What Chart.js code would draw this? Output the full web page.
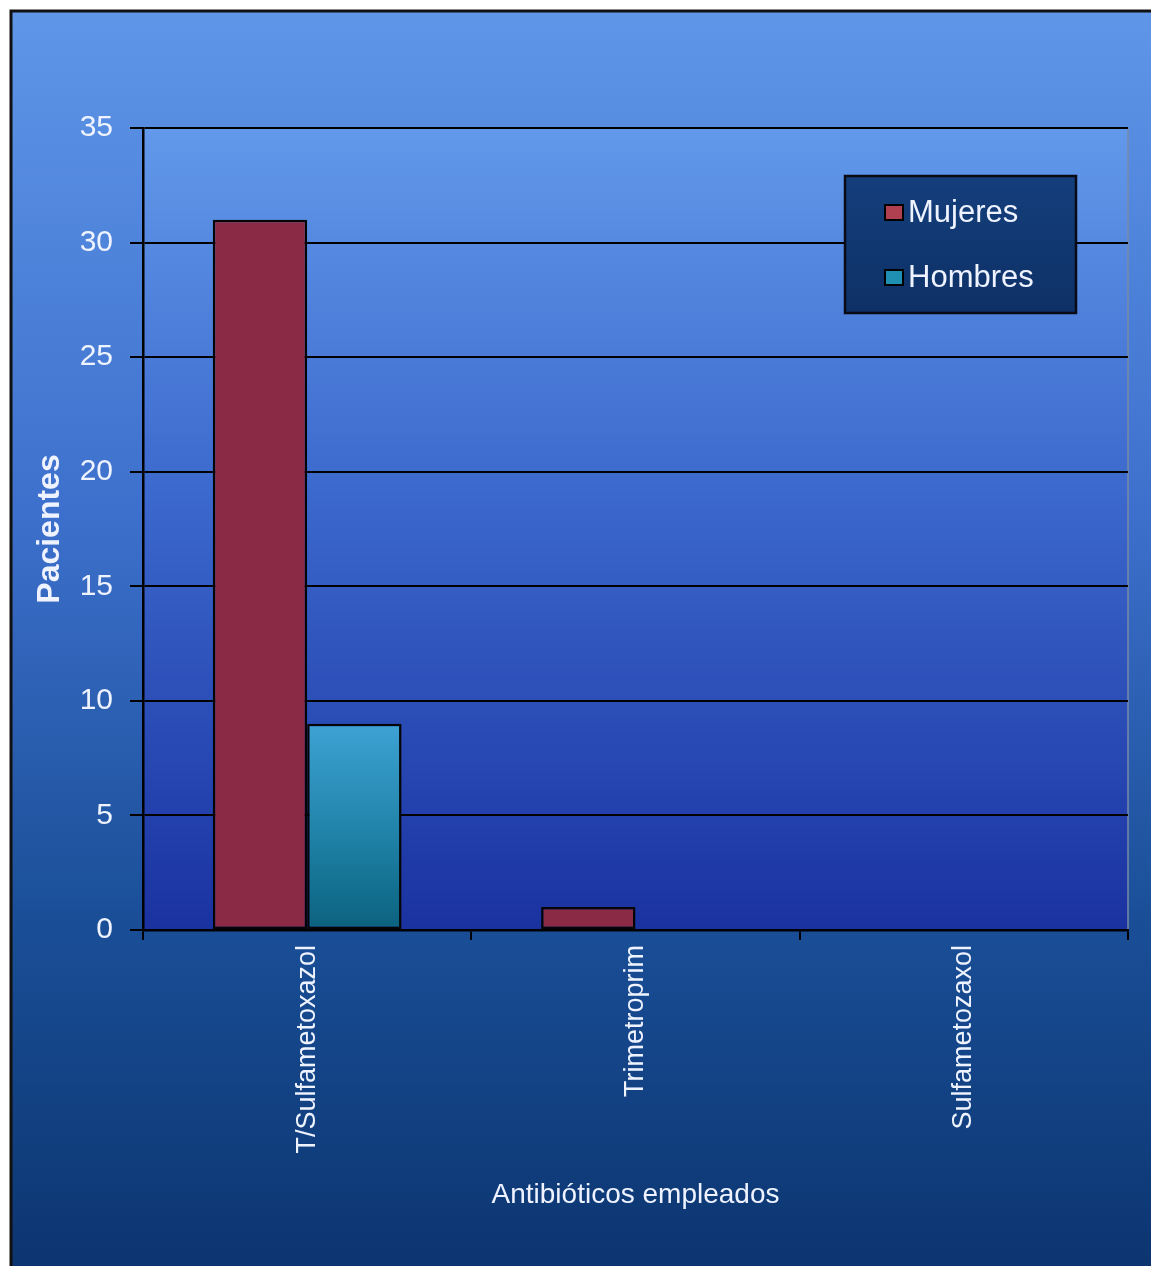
<!DOCTYPE html>
<html lang="es">
<head>
<meta charset="utf-8">
<title>Antibióticos empleados</title>
<script src="https://cdn.jsdelivr.net/npm/chart.js@4/dist/chart.umd.min.js"></script>
<style>
  html, body { margin: 0; padding: 0; background: #ffffff; }
  #wrap { width: 1151px; height: 1266px; position: relative; }
</style>
</head>
<body>
<div id="wrap"><canvas id="antibioticos-chart"></canvas></div>
<script>
// Antibiotics used, by sex
const categorias = ['T/Sulfametoxazol', 'Trimetroprim', 'Sulfametozaxol'];
const mujeres = [31, 1, 0];
const hombres = [9, 0, 0];
const etiquetasSeries = ['Mujeres', 'Hombres'];
const ejeY = { min: 0, max: 35, paso: 5 };

const FONT = "'Liberation Sans', Arial, sans-serif";
const TEXT = '#eef3ff';

// Framed gradient backdrop plus the plot-area gradient
const fondo = {
  id: 'fondo',
  beforeDraw(chart) {
    const { ctx, width, height, chartArea: a } = chart;
    ctx.save();
    ctx.fillStyle = '#ffffff';
    ctx.fillRect(0, 0, width, height);

    const g = ctx.createLinearGradient(0, 10, 0, height);
    g.addColorStop(0, '#5f96e8');
    g.addColorStop(0.4, '#3d70cc');
    g.addColorStop(0.72, '#1a4f98');
    g.addColorStop(1, '#0c3570');
    ctx.fillStyle = g;
    ctx.fillRect(10, 10, width - 10, height - 10);

    ctx.strokeStyle = '#111111';
    ctx.lineWidth = 3;
    ctx.beginPath();
    ctx.moveTo(11, height);
    ctx.lineTo(11, 11);
    ctx.lineTo(width, 11);
    ctx.stroke();

    const p = ctx.createLinearGradient(0, a.top, 0, a.bottom);
    p.addColorStop(0, '#6299ea');
    p.addColorStop(0.45, '#3c69cd');
    p.addColorStop(1, '#1a32a0');
    ctx.fillStyle = p;
    ctx.fillRect(a.left, a.top, a.right - a.left, a.bottom - a.top);
    ctx.strokeStyle = '#7a8aa8';
    ctx.lineWidth = 1.5;
    ctx.strokeRect(a.left, a.top, a.right - a.left, a.bottom - a.top);
    ctx.restore();
  }
};

// Boxed legend inside the plot, upper right
const leyenda = {
  id: 'leyenda',
  afterDraw(chart, args, opts) {
    const { ctx, chartArea: a } = chart;
    const x = a.right - opts.offsetRight - opts.width;
    const y = a.top + opts.offsetTop;
    ctx.save();
    const g = ctx.createLinearGradient(0, y, 0, y + opts.height);
    g.addColorStop(0, '#143f7c');
    g.addColorStop(1, '#0e3066');
    ctx.fillStyle = g;
    ctx.fillRect(x, y, opts.width, opts.height);
    ctx.strokeStyle = '#0a0a14';
    ctx.lineWidth = 2.5;
    ctx.strokeRect(x, y, opts.width, opts.height);

    ctx.font = `31px ${FONT}`;
    ctx.textBaseline = 'middle';
    chart.data.datasets.forEach((ds, i) => {
      const cy = y + 37 + i * 65;
      ctx.fillStyle = opts.swatches[i];
      ctx.fillRect(x + 40, cy - 8, 18, 15);
      ctx.strokeStyle = '#000000';
      ctx.lineWidth = 2;
      ctx.strokeRect(x + 40, cy - 8, 18, 15);
      ctx.fillStyle = TEXT;
      ctx.fillText(ds.label, x + 63, cy);
    });
    ctx.restore();
  }
};

function degradadoHombres(context) {
  const { chart, raw } = context;
  if (!chart.chartArea) return '#1f86ad';
  const y = chart.scales.y;
  const top = y.getPixelForValue(raw);
  const bottom = y.getPixelForValue(0);
  if (bottom - top < 1) return '#1f86ad';
  const g = chart.ctx.createLinearGradient(0, top, 0, bottom);
  g.addColorStop(0, '#3ea2d4');
  g.addColorStop(0.5, '#2185ab');
  g.addColorStop(1, '#0b627e');
  return g;
}

new Chart(document.getElementById('antibioticos-chart'), {
  type: 'bar',
  data: {
    labels: categorias,
    datasets: [
      {
        label: etiquetasSeries[0],
        data: mujeres,
        backgroundColor: '#8a2a45',
        borderColor: '#050505',
        borderWidth: 2.5,
        borderSkipped: false
      },
      {
        label: etiquetasSeries[1],
        data: hombres,
        backgroundColor: degradadoHombres,
        borderColor: '#050505',
        borderWidth: 2.5,
        borderSkipped: false
      }
    ]
  },
  options: {
    responsive: true,
    maintainAspectRatio: false,
    animation: false,
    layout: {
      padding: { left: 0, top: 128, right: 23, bottom: 0 }
    },
    datasets: {
      bar: {
        categoryPercentage: 0.575,
        barPercentage: 1.0
      }
    },
    plugins: {
      legend: { display: false },
      tooltip: { enabled: false },
      leyenda: {
        width: 231,
        height: 137,
        offsetRight: 52,
        offsetTop: 48,
        swatches: ['#b0404f', '#1f8fb2']
      }
    },
    scales: {
      x: {
        afterFit: (s) => { s.height = 336; },
        grid: {
          drawOnChartArea: false,
          drawTicks: true,
          tickLength: 10,
          color: '#000000',
          lineWidth: 2
        },
        border: {
          display: true,
          color: '#000000',
          width: 2.5
        },
        ticks: {
          color: TEXT,
          minRotation: 90,
          maxRotation: 90,
          padding: 5,
          font: { family: FONT, size: 27 }
        },
        title: {
          display: true,
          text: 'Antibióticos empleados',
          color: TEXT,
          padding: { top: 0, bottom: 54 },
          font: { family: FONT, size: 28 }
        }
      },
      y: {
        min: ejeY.min,
        max: ejeY.max,
        afterFit: (s) => { s.width = 143; },
        grid: {
          color: '#000000',
          lineWidth: 2,
          tickLength: 13
        },
        border: {
          display: true,
          color: '#000000',
          width: 2.5
        },
        ticks: {
          stepSize: ejeY.paso,
          color: TEXT,
          padding: 17,
          font: { family: FONT, size: 30 }
        },
        title: {
          display: true,
          text: 'Pacientes',
          color: TEXT,
          padding: { top: 31, bottom: 0 },
          font: { family: FONT, size: 32, weight: 'bold' }
        }
      }
    }
  },
  plugins: [fondo, leyenda]
});
</script>
</body>
</html>
